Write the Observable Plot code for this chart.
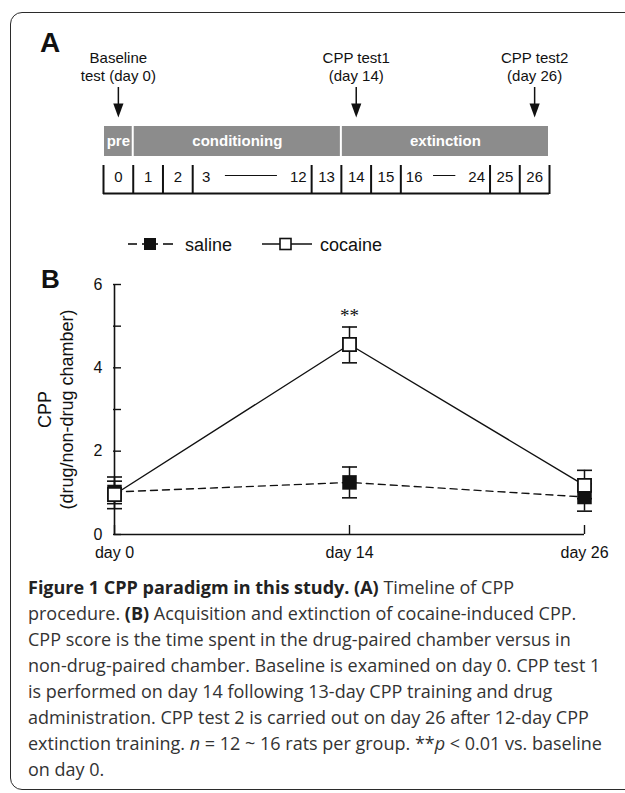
<!DOCTYPE html>
<html>
<head>
<meta charset="utf-8">
<script src="https://cdn.jsdelivr.net/npm/d3@7"></script>
<script src="https://cdn.jsdelivr.net/npm/@observablehq/plot@0.6"></script>
<style>
  html, body { margin: 0; padding: 0; background: #fff; }
  body { width: 625px; height: 793px; overflow: hidden; position: relative; }
  .abs { position: absolute; }
  #frame { left: 10px; top: 12px; width: 800px; height: 778px; border: 1.6px solid #2b2b2b; border-radius: 12px; box-sizing: border-box; }
  .panel { font-family: "Liberation Sans", Arial, sans-serif; font-weight: bold; color: #111; }
  #caption { left: 28px; top: 574px; font-family: "Open Sans", sans-serif; font-size: 18px; line-height: 26px; color: #333; white-space: nowrap; }
  #caption b { color: #222; font-weight: 700; }
</style>
</head>
<body>
<div id="frame" class="abs"></div>
<div class="abs panel" style="left:40px; top:27px; font-size:28px;">A</div>
<div id="timeline" class="abs" style="left:0; top:0;"></div>
<div id="legend" class="abs" style="left:0; top:230px;"></div>
<div class="abs panel" style="left:41px; top:264px; font-size:26px;">B</div>
<div id="chart" class="abs" style="left:0; top:230px;"></div>
<div id="caption" class="abs">
<b>Figure 1 CPP paradigm in this study. (A)</b> Timeline of CPP<br>
procedure. <b>(B)</b> Acquisition and extinction of cocaine-induced CPP.<br>
CPP score is the time spent in the drug-paired chamber versus in<br>
non-drug-paired chamber. Baseline is examined on day 0. CPP test 1<br>
is performed on day 14 following 13-day CPP training and drug<br>
administration. CPP test 2 is carried out on day 26 after 12-day CPP<br>
extinction training. <i>n</i> = 12 ~ 16 rats per group. **<i>p</i> &lt; 0.01 vs. baseline<br>
on day 0.
</div>
<script>
// ---------- Panel A data (timeline) ----------
const phaseLabels = ["pre", "conditioning", "extinction"];
const phaseUnits = [1, 7, 7];
const cellFirst = ["0", "1", "2", "3", "13", "14", "15", "16", "25", "26"];
const cellLast  = [null, null, null, "12", null, null, null, "24", null, null];
const cellUnits = [1, 1, 1, 4, 1, 1, 1, 3, 1, 1];
const testCells  = ["0", "14", "26"];
const testLabels = ["Baseline\ntest (day 0)", "CPP test1\n(day 14)", "CPP test2\n(day 26)"];

// ---------- Panel B data ----------
const days = ["day 0", "day 14", "day 26"];
const salineMean = [1.02, 1.25, 0.90];
const salineLo   = [0.62, 0.88, 0.56];
const salineHi   = [1.38, 1.62, 1.22];
const cocaineMean = [0.96, 4.56, 1.18];
const cocaineLo   = [0.74, 4.12, 0.86];
const cocaineHi   = [1.28, 4.98, 1.54];
const yTicks = [0, 1, 2, 3, 4, 5, 6];
const yTickLabels = [0, 2, 4, 6];
const yTitle = ["CPP", "(drug/non-drug chamber)"];
const starDay = "day 14";
const starLabel = "**";

const FONT = "'Liberation Sans', Arial, sans-serif";

// ---------- build timeline tables ----------
let acc = 0;
const phases = phaseLabels.map((label, i) => { const s = acc; acc += phaseUnits[i]; return {label, start: s, end: acc}; });
acc = 0;
const cells = cellFirst.map((first, i) => { const s = acc; acc += cellUnits[i]; return {first, last: cellLast[i], start: s, end: acc}; });
const edges = [0, ...cells.map(c => c.end)];
const singleCells = cells.filter(c => !c.last);
const rangeCells = cells.filter(c => c.last);
const tests = testCells.map((c, i) => { const cell = cells.find(d => d.first === c); return {x: (cell.start + cell.end) / 2, label: testLabels[i]}; });
const downTriangle = {draw(ctx, size) { const s = Math.sqrt(size); ctx.moveTo(-s * 0.36, -s * 0.5); ctx.lineTo(s * 0.36, -s * 0.5); ctx.lineTo(0, s * 0.5); ctx.closePath(); }};

const timeline = Plot.plot({
  width: 625, height: 200,
  marginLeft: 103, marginRight: 76, marginTop: 0, marginBottom: 0,
  x: {domain: [0, 15], axis: null},
  y: {domain: [0, 200], range: [0, 200], axis: null},
  style: {fontFamily: FONT, overflow: "visible", background: "transparent"},
  marks: [
    Plot.rect(phases, {x1: "start", x2: "end", y1: 126, y2: 156, fill: "#8c8c8c", insetLeft: 1, insetRight: 1}),
    Plot.text(phases, {x: d => (d.start + d.end) / 2, y: 141, text: "label", fill: "white", fontWeight: "bold", fontSize: 15}),
    Plot.ruleX(edges, {x: d => d, y1: 165, y2: 194, stroke: "#111", strokeWidth: 2}),
    Plot.ruleY([193], {x1: 0, x2: 15, stroke: "#111", strokeWidth: 2.2}),
    Plot.text(singleCells, {x: c => (c.start + c.end) / 2, y: 177, text: "first", fontSize: 15, fill: "#111"}),
    Plot.text(rangeCells, {x: c => c.start + 0.45, y: 177, text: "first", fontSize: 15, fill: "#111"}),
    Plot.text(rangeCells, {x: c => c.end - 0.45, y: 177, text: "last", fontSize: 15, fill: "#111"}),
    Plot.ruleY(rangeCells, {x1: c => c.start + 1.1, x2: c => c.end - 1.15, y: 175, stroke: "#111", strokeWidth: 1}),
    Plot.ruleX(tests, {x: "x", y1: 87, y2: 106, stroke: "#111", strokeWidth: 1.5}),
    Plot.dot(tests, {x: "x", y: 110, symbol: downTriangle, r: 8, fill: "#111", stroke: "none"}),
    Plot.text(tests, {x: "x", y: 66, text: "label", fontSize: 15, lineHeight: 1.2, fill: "#111"})
  ]
});
document.getElementById("timeline").appendChild(timeline);

// ---------- legend ----------
const NS = "http://www.w3.org/2000/svg";
const leg = document.createElementNS(NS, "svg");
leg.setAttribute("width", 625); leg.setAttribute("height", 30);
leg.innerHTML = `
  <g stroke="#111" stroke-width="1.6">
    <line x1="128" y1="14" x2="137" y2="14"/>
    <line x1="142" y1="14" x2="158" y2="14"/>
    <line x1="163" y1="14" x2="173" y2="14"/>
    <line x1="262" y1="14" x2="312" y2="14"/>
  </g>
  <rect x="144" y="8" width="12" height="12" fill="#111"/>
  <rect x="280" y="8.5" width="11" height="11" fill="#fff" stroke="#111" stroke-width="1.6"/>
  <text x="185" y="20.5" font-family="${FONT}" font-size="18" fill="#111">saline</text>
  <text x="320" y="20.5" font-family="${FONT}" font-size="18" fill="#111">cocaine</text>`;
document.getElementById("legend").appendChild(leg);

// ---------- Panel B chart ----------
const saline = days.map((d, i) => ({day: d, mean: salineMean[i], lo: salineLo[i], hi: salineHi[i]}));
const cocaine = days.map((d, i) => ({day: d, mean: cocaineMean[i], lo: cocaineLo[i], hi: cocaineHi[i]}));
const stars = [{day: starDay, y: cocaineHi[days.indexOf(starDay)], label: starLabel}];
const capSymbol = {draw(ctx, size) { const r = Math.sqrt(size / Math.PI); ctx.moveTo(-r, 0); ctx.lineTo(r, 0); }};

const errMarks = (data) => [
  Plot.ruleX(data, {x: "day", y1: "lo", y2: "hi", stroke: "#111", strokeWidth: 1.5}),
  Plot.dot(data, {x: "day", y: "lo", symbol: capSymbol, r: 7.5, fill: "none", stroke: "#111", strokeWidth: 1.6}),
  Plot.dot(data, {x: "day", y: "hi", symbol: capSymbol, r: 7.5, fill: "none", stroke: "#111", strokeWidth: 1.6})
];

const chart = Plot.plot({
  width: 625, height: 340,
  marginTop: 54, marginBottom: 36, marginLeft: 113, marginRight: 41,
  x: {type: "point", domain: days, padding: 0, axis: null, label: null},
  y: {domain: [0, 6], axis: null, label: null},
  style: {fontFamily: FONT, overflow: "visible", background: "transparent", color: "#111"},
  marks: [
    Plot.ruleX([days[0]], {y1: 0, y2: 6, stroke: "#111", strokeWidth: 1.6}),
    Plot.ruleY([0], {x1: () => days[0], x2: () => days[2], stroke: "#111", strokeWidth: 1.6}),
    Plot.axisX({tickSize: 9, dy: -9, tickFormat: () => "", label: null, strokeWidth: 1.4}),
    Plot.axisX({tickSize: 0, tickPadding: 12, fontSize: 16, label: null, tickFormat: d => d}),
    Plot.axisY({ticks: yTicks, tickSize: 8, dx: 8, tickFormat: () => "", label: null, strokeWidth: 1.4}),
    Plot.axisY({ticks: yTickLabels, tickSize: 0, tickPadding: 11, fontSize: 16, label: null, tickFormat: d => String(d)}),
    Plot.text([yTitle[0]], {frameAnchor: "left", textAnchor: "middle", dx: -68, rotate: -90, fontSize: 18}),
    Plot.text([yTitle[1]], {frameAnchor: "left", textAnchor: "middle", dx: -46, rotate: -90, fontSize: 18}),
    Plot.line(saline, {x: "day", y: "mean", stroke: "#111", strokeWidth: 1.4, strokeDasharray: "7,5"}),
    Plot.line(cocaine, {x: "day", y: "mean", stroke: "#111", strokeWidth: 1.4}),
    ...errMarks(saline),
    ...errMarks(cocaine),
    Plot.dot(saline, {x: "day", y: "mean", symbol: "square", r: 8.2, fill: "#111", stroke: "none"}),
    Plot.dot(cocaine, {x: "day", y: "mean", symbol: "square", r: 7.4, fill: "#fff", stroke: "#111", strokeWidth: 1.8}),
    Plot.text(stars, {x: "day", y: "y", text: "label", dy: -11, fontSize: 19, fontFamily: "'Liberation Serif', 'DejaVu Serif', serif", fill: "#111"})
  ]
});
document.getElementById("chart").appendChild(chart);
</script>
</body>
</html>
